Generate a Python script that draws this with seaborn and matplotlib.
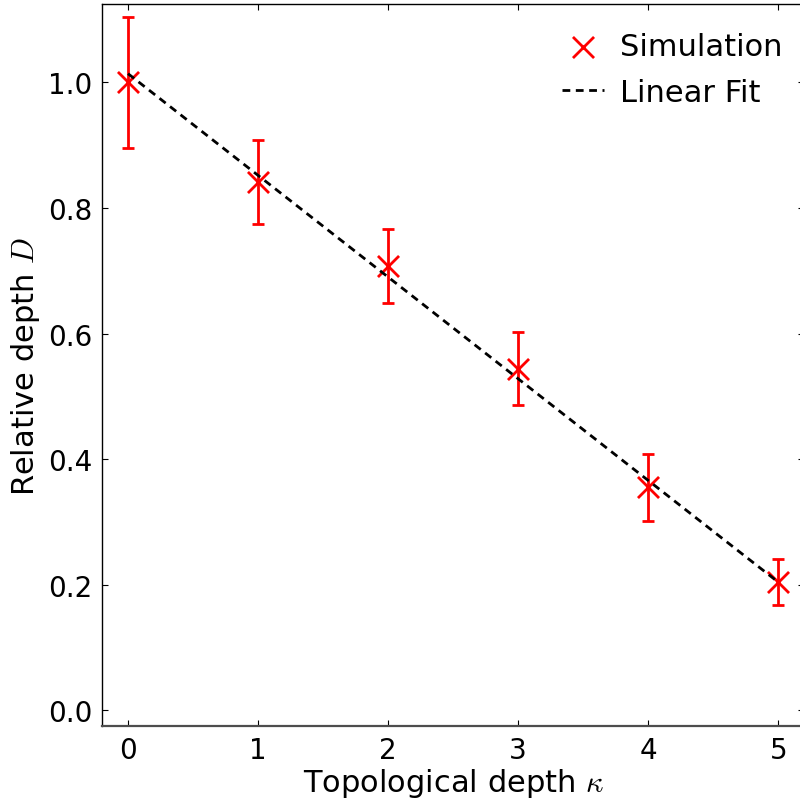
import numpy as np
import pandas as pd
import seaborn as sns
import matplotlib
matplotlib.use("Agg")
import matplotlib.pyplot as plt

# === Data ===
kappa = [0, 1, 2, 3, 4, 5]
depth = [1.000, 0.841, 0.707, 0.544, 0.355, 0.204]
depth_err = [0.105, 0.067, 0.059, 0.058, 0.054, 0.037]
fit_intercept = 1.014
fit_slope = -0.162

df = pd.DataFrame({"kappa": kappa, "depth": depth, "err": depth_err})
fit_x = np.array([kappa[0], kappa[-1]], dtype=float)
fit_df = pd.DataFrame({"kappa": fit_x, "depth": fit_intercept + fit_slope * fit_x})

# === Style ===
sns.set_style("ticks")
plt.rcParams["font.family"] = ["DejaVu Sans"]
plt.rcParams["mathtext.fontset"] = "cm"
plt.rcParams["text.color"] = "black"
plt.rcParams["axes.labelcolor"] = "black"

fig = plt.figure(figsize=(8.0, 8.03), dpi=100)
ax = fig.add_axes([0.1275, 0.0946, 0.878, 0.8992])

# --- error bars + markers ---
ax.errorbar(df["kappa"], df["depth"], yerr=df["err"], fmt="none",
            ecolor="red", elinewidth=2.0, capsize=4, capthick=2.0, zorder=2)
sns.scatterplot(data=df, x="kappa", y="depth", marker="x", color="red",
                s=230, linewidth=2.0, ax=ax, zorder=3, label="Simulation")

# --- linear fit ---
sns.lineplot(data=fit_df, x="kappa", y="depth", color="black", linewidth=2.0,
             linestyle=(0, (2.8, 2.0)), ax=ax, zorder=4, label="Linear Fit")

ax.set_xlim(-0.2, 5.2)
ax.set_ylim(-0.025, 1.125)
ax.set_xticks(kappa)
ax.set_yticks([0.0, 0.2, 0.4, 0.6, 0.8, 1.0])
ax.set_yticklabels(["0.0", "0.2", "0.4", "0.6", "0.8", "1.0"])
ax.tick_params(direction="in", length=4, width=0.8, top=True, right=True,
               labelsize=20, pad=7, colors="black")
for sp in ax.spines.values():
    sp.set_color("black")
    sp.set_linewidth(1.0)
ax.spines["bottom"].set_color("0.3")
ax.spines["bottom"].set_linewidth(1.6)

ax.set_xlabel(r"Topological depth $\kappa$", fontsize=22, labelpad=1.5)
ax.set_ylabel(r"Relative depth $D$", fontsize=22, labelpad=4)

leg = ax.legend(loc="upper right", frameon=False, fontsize=22,
                handlelength=1.4, handletextpad=0.5, borderaxespad=0.4,
                labelspacing=0.55, bbox_to_anchor=(1.003, 0.995))

fig.savefig("out.png", dpi=100)
plt.close(fig)
